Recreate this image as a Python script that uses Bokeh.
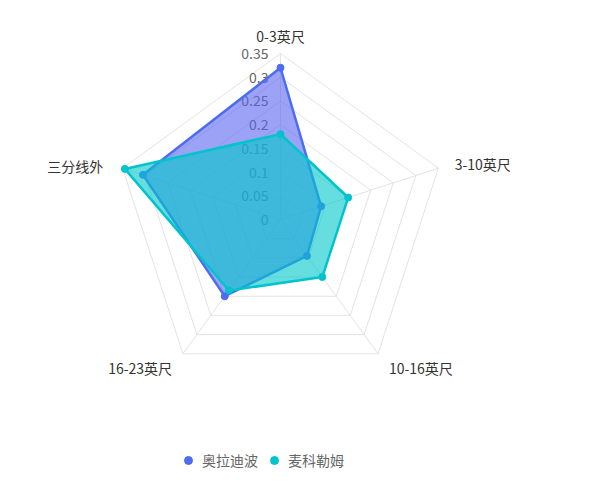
import numpy as np
from bokeh.plotting import figure
from bokeh.models import ColumnDataSource, Legend, LegendItem, Range1d
from bokeh.core.properties import value
from bokeh.embed import file_html
from bokeh.resources import INLINE

# shot distribution by distance
categories = ["0-3英尺", "3-10英尺", "10-16英尺", "16-23英尺", "三分线外"]
oladipo = [0.32, 0.09, 0.095, 0.20, 0.305]
mccollum = [0.18, 0.15, 0.15, 0.185, 0.345]
ticks = [0, 0.05, 0.1, 0.15, 0.2, 0.25, 0.3, 0.35]
tick_labels = ["0", "0.05", "0.1", "0.15", "0.2", "0.25", "0.3", "0.35"]

FONT = "Noto Sans CJK SC"
W, H = 590, 474
cx, cy = 280, 219          # centre of the radar in screen px
K = 166 / ticks[-1]        # px per unit

n = len(categories)
ang = np.pi / 2 - np.arange(n) * 2 * np.pi / n
ca, sa = np.cos(ang), np.sin(ang)

p = figure(width=W, height=H, output_backend="svg", toolbar_location=None,
           x_range=Range1d(-cx / K, (W - cx) / K),
           y_range=Range1d(-(H - cy) / K, cy / K),
           x_axis_location=None, y_axis_location=None, min_border=0)
p.grid.visible = False
p.outline_line_color = None

# rings and spokes
rmax = ticks[-1]
rings_x = [list(np.append(r * ca, r * ca[0])) for r in ticks[1:]]
rings_y = [list(np.append(r * sa, r * sa[0])) for r in ticks[1:]]
p.multi_line(rings_x, rings_y, line_color="#e3e3e3", line_width=1)
p.multi_line([[0, rmax * c] for c in ca], [[0, rmax * s] for s in sa],
             line_color="#e3e3e3", line_width=1)

# radial tick labels (drawn under the areas)
p.text(x=[0] * len(ticks), y=ticks, text=tick_labels, x_offset=-12,
       text_align="right", text_baseline="middle", text_color="#666666",
       text_font=value(FONT), text_font_size="14px")

# category names
rn = rmax + 15 / K
aligns = ["center", "left", "left", "right", "right"]
xoffs = [0, 2, 2, -2, -5]
yoffs = [-3, 0, 2, 2, 2]
name_src = ColumnDataSource(dict(x=rn * ca, y=rn * sa, t=categories,
                                 al=aligns, xo=xoffs, yo=yoffs))
p.text(x="x", y="y", text="t", text_align="al", x_offset="xo", y_offset="yo",
       text_baseline="middle", text_color="#333333",
       text_font=value(FONT), text_font_size="14px", source=name_src)

series = [("奥拉迪波", oladipo, "#4d6cf0", "#5a64ee"),
          ("麦科勒姆", mccollum, "#00c4cc", "#00c8cc")]
items = []
for name, vals, lc, fc in series:
    v = np.array(vals)
    xs, ys = v * ca, v * sa
    p.patch(list(xs), list(ys), fill_color=fc, fill_alpha=0.6, line_color=None)
    p.line(list(np.append(xs, xs[0])), list(np.append(ys, ys[0])),
           line_color=lc, line_width=2.5)
    pts = p.scatter(xs, ys, size=7, fill_color=lc, line_color=lc)
    items.append(LegendItem(label=name, renderers=[pts]))

legend = Legend(items=items, orientation="horizontal", location=(178, 4),
                glyph_width=20, glyph_height=20, label_standoff=4, spacing=6,
                padding=0, border_line_color=None, background_fill_alpha=0,
                label_text_font=FONT, label_text_font_size="14px",
                label_text_color="#666666")
p.add_layout(legend)

open("out.html", "w").write(file_html(p, INLINE))
